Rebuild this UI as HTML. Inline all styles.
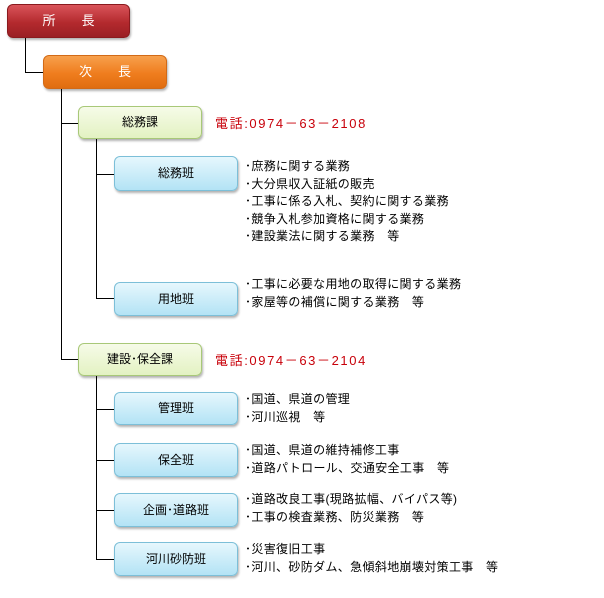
<!DOCTYPE html>
<html><head><meta charset="utf-8"><style>
body{margin:0;width:604px;height:598px;background:#fff;position:relative;overflow:hidden;font-family:"Liberation Sans","Noto Sans CJK JP",sans-serif;}
.b{position:absolute;box-sizing:border-box;border-radius:6px;text-align:center;font-size:12px;color:#000;box-shadow:1px 2px 2px rgba(0,0,0,0.3);}
.r{background:linear-gradient(#d9545a,#b42a2e 55%,#9a1f24);border:1px solid #8a1a1e;color:#fff;font-size:13px;}
.o{background:linear-gradient(#f7a04c,#ef7d1e 55%,#e06d10);border:1px solid #d26a16;color:#fff;font-size:13px;}
.g{background:linear-gradient(#f6fbe8,#e3f2c2);border:1px solid #a8c878;}
.c{background:linear-gradient(#e6f7fd,#b3e3f5);border:1px solid #7cbfd8;}
.l{position:absolute;background:#000;}
.t{position:absolute;left:245px;font-size:12px;line-height:17.5px;white-space:pre;color:#000;letter-spacing:0.35px;}
.p{position:absolute;left:215px;font-size:13px;color:#c8000a;letter-spacing:1.6px;}
</style></head><body>
<div class="l" style="left:25px;top:38px;width:1px;height:35px"></div>
<div class="l" style="left:25px;top:72px;width:18px;height:1px"></div>
<div class="l" style="left:61px;top:89px;width:1px;height:271px"></div>
<div class="l" style="left:61px;top:123px;width:17px;height:1px"></div>
<div class="l" style="left:61px;top:359px;width:17px;height:1px"></div>
<div class="l" style="left:96px;top:139px;width:1px;height:160px"></div>
<div class="l" style="left:96px;top:174px;width:18px;height:1px"></div>
<div class="l" style="left:96px;top:298px;width:18px;height:1px"></div>
<div class="l" style="left:96px;top:376px;width:1px;height:184px"></div>
<div class="l" style="left:96px;top:409px;width:18px;height:1px"></div>
<div class="l" style="left:96px;top:460px;width:18px;height:1px"></div>
<div class="l" style="left:96px;top:510px;width:18px;height:1px"></div>
<div class="l" style="left:96px;top:559px;width:18px;height:1px"></div>

<div class="b r" style="left:7px;top:4px;width:123px;height:34px;line-height:32px">所　　長</div>
<div class="b o" style="left:43px;top:55px;width:124px;height:34px;line-height:32px">次　　長</div>
<div class="b g" style="left:78px;top:106px;width:124px;height:33px;line-height:31px">総務課</div>
<div class="b c" style="left:114px;top:156px;width:124px;height:35px;line-height:33px">総務班</div>
<div class="b c" style="left:114px;top:282px;width:124px;height:34px;line-height:32px">用地班</div>
<div class="b g" style="left:78px;top:343px;width:124px;height:33px;line-height:31px">建設･保全課</div>
<div class="b c" style="left:114px;top:392px;width:124px;height:33px;line-height:31px">管理班</div>
<div class="b c" style="left:114px;top:443px;width:124px;height:34px;line-height:32px">保全班</div>
<div class="b c" style="left:114px;top:493px;width:124px;height:34px;line-height:32px">企画･道路班</div>
<div class="b c" style="left:114px;top:542px;width:124px;height:34px;line-height:32px">河川砂防班</div>

<div class="p" style="top:113px">電話:0974－63－2108</div>
<div class="p" style="top:350px">電話:0974－63－2104</div>

<div class="t" style="top:158px">･庶務に関する業務
･大分県収入証紙の販売
･工事に係る入札、契約に関する業務
･競争入札参加資格に関する業務
･建設業法に関する業務　等</div>
<div class="t" style="top:276px">･工事に必要な用地の取得に関する業務
･家屋等の補償に関する業務　等</div>
<div class="t" style="top:391px">･国道、県道の管理
･河川巡視　等</div>
<div class="t" style="top:442px">･国道、県道の維持補修工事
･道路パトロール、交通安全工事　等</div>
<div class="t" style="top:491px">･道路改良工事(現路拡幅、バイパス等)
･工事の検査業務、防災業務　等</div>
<div class="t" style="top:541px">･災害復旧工事
･河川、砂防ダム、急傾斜地崩壊対策工事　等</div>
</body></html>
